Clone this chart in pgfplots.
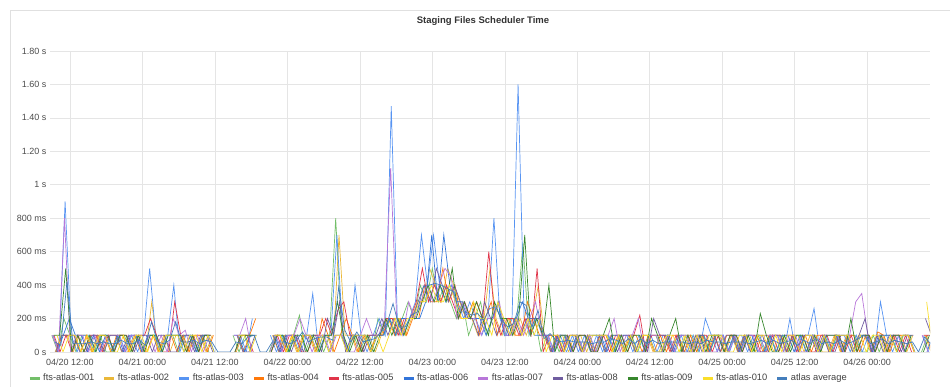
\documentclass[border=0pt]{standalone}
\usepackage{fontspec}
\setmainfont{Liberation Sans}
\usepackage{pgfplots}
\usepackage{pgfplotstable}
\pgfplotsset{compat=1.18}
\definecolor{c1}{HTML}{73BF69}
\definecolor{c2}{HTML}{EAB839}
\definecolor{c3}{HTML}{5794F2}
\definecolor{c4}{HTML}{FF780A}
\definecolor{c5}{HTML}{E0354A}
\definecolor{c6}{HTML}{3274D9}
\definecolor{c7}{HTML}{B877D9}
\definecolor{c8}{HTML}{705DA0}
\definecolor{c9}{HTML}{37872D}
\definecolor{c10}{HTML}{FADE2A}
\definecolor{cavg}{HTML}{447EBC}
% one row per series, hourly values (ms) from 04/20 09:00
\pgfplotstableread[header=false]{
100 0 200 100 0 100 100 0 100 0 0 100 100 0 100 0 100 100 0 100 100 0 100 100 0 100 0 nan nan nan 100 0 100 0 nan nan 0 100 100 0 100 220 0 100 100 0 100 800 100 0 100 0 100 0 200 100 200 100 200 300 200 400 300 500 300 400 300 200 300 100 200 300 100 200 300 100 200 200 650 100 200 0 100 100 0 100 0 100 0 100 0 100 100 0 100 0 100 0 100 100 100 0 100 0 0 100 100 0 100 0 100 100 0 100 0 100 0 100 0 100 0 100 0 100 100 0 100 0 100 0 100 0 100 100 0 0 100 0 100 100 0 100 100 nan 0 100
0 100 100 0 100 100 0 100 0 100 100 0 0 100 100 0 300 0 100 0 100 100 0 100 100 0 100 nan nan nan 0 100 100 100 nan nan 100 0 100 100 0 100 100 0 100 100 0 700 100 100 0 100 100 0 100 200 200 200 100 200 300 300 500 400 300 500 400 300 200 200 100 200 500 200 100 200 100 200 100 200 400 100 0 100 100 0 100 100 0 100 100 0 100 100 0 100 0 100 100 0 0 100 0 100 100 0 100 100 0 100 100 0 100 0 100 100 0 100 100 0 100 0 100 100 0 100 100 0 0 100 0 100 0 100 100 0 100 100 0 100 100 0 100 nan 100 0
100 0 900 100 0 100 100 0 100 100 0 100 0 100 0 100 500 100 0 100 400 0 100 100 0 100 100 nan nan nan 100 100 0 200 nan nan 100 0 100 0 100 0 100 350 0 100 100 700 100 0 400 100 0 100 200 100 1470 200 100 200 300 700 400 700 400 300 400 300 200 300 200 100 200 800 200 100 200 1600 200 100 200 100 100 0 100 0 100 0 100 0 100 0 100 0 100 100 0 100 0 100 0 100 100 0 100 0 100 0 200 100 0 100 0 100 100 0 100 100 0 100 100 0 200 0 100 100 260 0 100 0 100 100 0 100 0 100 0 300 100 0 100 0 100 nan 100 0
0 100 100 100 0 100 0 100 100 0 100 100 0 100 0 0 100 0 100 100 0 100 0 100 100 0 100 nan nan nan 100 0 100 200 nan nan 100 100 0 100 0 100 100 0 200 100 0 100 200 100 0 100 0 100 100 200 100 200 100 200 200 400 300 300 500 300 400 200 200 300 100 200 300 100 200 200 100 100 300 200 100 100 0 100 0 100 100 0 100 0 100 100 0 100 0 100 100 0 100 0 100 0 100 100 0 100 0 100 0 100 0 100 100 0 100 0 100 0 100 100 100 0 100 0 100 0 100 100 0 100 0 100 100 0 100 0 120 100 0 100 100 100 0 nan 100 0
100 0 100 0 100 0 100 100 0 100 0 100 100 0 100 100 200 100 0 0 300 100 0 100 0 100 100 nan nan nan 0 100 100 0 nan nan 0 100 0 100 100 0 0 100 100 200 100 250 300 100 100 0 100 100 100 200 200 100 200 200 300 500 300 400 300 400 300 200 300 200 300 200 600 200 100 200 200 100 200 100 500 0 100 100 0 100 0 100 100 0 0 100 0 100 100 0 100 220 0 100 100 100 0 100 0 100 0 100 100 0 100 0 100 100 0 100 100 0 0 100 0 100 100 0 100 0 0 100 100 0 100 0 100 0 100 100 0 100 0 100 0 100 0 nan 100 100
0 100 200 100 100 0 100 0 100 0 100 0 100 100 0 100 100 0 100 100 100 0 100 0 100 100 0 nan nan nan 100 0 100 100 nan nan 100 0 100 100 0 100 100 0 100 0 100 100 0 100 100 100 0 100 100 200 100 200 200 200 200 300 700 300 700 400 300 300 200 200 200 100 200 300 100 100 200 300 200 100 100 100 0 100 100 0 100 0 100 100 100 0 100 100 0 100 0 0 100 0 0 100 0 100 100 0 100 100 0 100 100 0 100 0 100 100 0 0 100 0 100 100 0 100 0 100 0 100 0 100 0 100 0 100 100 0 100 100 100 0 100 100 0 nan 0 100
100 0 800 0 100 100 0 100 0 100 100 100 0 100 100 0 100 0 100 0 200 100 130 0 100 0 100 nan nan nan 100 100 200 0 nan nan 0 100 0 100 100 200 100 0 100 100 0 100 100 0 0 100 200 100 100 200 1100 200 100 300 200 300 400 300 400 500 450 200 300 200 200 100 200 200 300 100 100 200 100 200 300 100 100 0 100 100 0 100 0 100 0 100 100 200 0 100 100 200 0 100 100 0 100 0 100 100 0 100 0 0 0 100 0 100 0 100 100 0 100 100 100 0 100 100 0 0 100 0 100 100 100 0 100 300 350 100 0 100 0 100 100 0 100 nan 100 0
0 100 100 100 0 0 100 100 0 100 100 0 100 0 100 100 0 100 100 0 0 100 100 0 100 100 0 nan nan nan 100 0 0 100 nan nan 100 0 100 0 100 0 100 100 0 200 100 300 0 100 100 0 100 100 200 100 200 100 200 200 300 400 300 500 400 300 400 300 200 200 100 300 200 100 200 100 200 100 200 200 200 100 0 100 0 100 100 0 100 0 100 0 100 0 100 100 0 100 0 200 100 100 0 100 0 0 100 0 100 100 0 100 100 0 100 0 100 100 0 100 100 0 100 0 100 100 0 100 0 0 100 100 0 100 200 0 100 0 100 100 0 100 100 nan 200 100
100 100 500 0 100 0 100 0 100 100 0 100 100 0 100 0 100 100 0 100 100 100 0 100 0 100 100 nan nan nan 0 100 100 100 nan nan 0 100 100 0 100 100 0 100 0 100 100 300 100 0 100 0 100 0 100 200 100 200 100 200 200 300 400 300 400 300 500 200 300 200 300 200 100 300 200 200 100 200 700 100 200 100 400 0 100 100 0 100 100 0 0 100 200 0 100 0 100 100 0 200 100 0 100 200 0 100 0 100 0 100 100 0 100 100 0 100 0 230 100 0 0 100 0 100 100 0 100 0 100 100 100 0 200 0 100 100 0 100 0 100 100 0 100 nan 0 100
100 0 100 100 0 100 0 100 100 0 0 100 0 100 100 0 100 0 100 100 100 0 100 100 0 100 0 nan nan nan 100 100 0 100 nan nan 100 100 0 100 0 100 100 0 100 0 100 100 0 100 100 100 0 100 0 100 200 100 200 200 300 300 400 300 300 400 300 200 200 300 200 200 100 300 200 100 200 100 200 100 200 0 100 100 0 100 100 0 100 100 100 100 0 100 0 100 0 100 100 0 0 100 100 0 100 0 100 0 100 100 100 0 0 100 100 0 100 100 0 100 0 100 100 0 100 100 0 100 0 100 100 100 0 100 0 100 100 0 100 0 100 100 0 nan 300 0
60 40 420 50 50 50 60 50 60 50 50 70 50 50 70 40 180 60 50 70 180 60 60 70 50 70 60 0 0 0 60 50 90 100 0 0 60 60 60 50 70 120 60 80 90 90 70 390 130 60 120 60 70 80 120 170 290 150 150 220 240 390 400 410 400 380 360 240 240 220 230 190 260 270 190 150 170 300 280 150 250 80 110 70 60 70 60 60 60 50 60 60 80 70 50 80 50 80 50 70 50 60 60 60 60 50 60 50 70 60 60 50 60 60 60 50 60 70 50 70 50 60 70 40 70 50 80 50 60 50 70 50 60 80 100 50 60 80 50 70 60 50 60 0 90 50
}\rawdata
\pgfplotstabletranspose{\seriesdata}{\rawdata}
\begin{document}
\begin{tikzpicture}
\path[use as bounding box] (0pt,0pt) rectangle (950pt,387pt);
\draw[black!12, line width=0.8pt] (10pt,-2pt) -- (10pt,377pt) -- (952pt,377pt);
\node[font=\fontsize{9.5}{11}\selectfont\bfseries, text=black!80] at (483pt,366pt) {Staging Files Scheduler Time};
\begin{axis}[
 at={(50pt,35pt)}, anchor=south west,
 scale only axis, width=880pt, height=301pt,
 xmin=8.7, xmax=154.4, ymin=0, ymax=1800,
 axis line style={draw=none},
 major tick length=0pt,
 grid=major, grid style={draw=black!10, line width=0.6pt},
 xtick={12,24,...,144},
 xticklabels={04/20 12:00,04/21 00:00,04/21 12:00,04/22 00:00,04/22 12:00,04/23 00:00,04/23 12:00,04/24 00:00,04/24 12:00,04/25 00:00,04/25 12:00,04/26 00:00},
 ytick={0,200,...,1800},
 yticklabels={0 s,200 ms,400 ms,600 ms,800 ms,1 s,1.20 s,1.40 s,1.60 s,1.80 s},
 tick label style={font=\fontsize{9}{10}\selectfont, text=black!70},
 xticklabel style={yshift=-3pt},
 unbounded coords=jump,
 legend columns=-1,
 legend style={draw=none, fill=none, at={(-0.025,-0.0864)}, anchor=west, font=\fontsize{9.3}{10}\selectfont, text=black!75, inner sep=0pt, /tikz/every even column/.append style={column sep=6.6pt}},
 legend image code/.code={\draw[line width=3pt] (0pt,0pt) -- (10pt,0pt);},
 every axis plot/.append style={line width=0.7pt},
 legend entries={fts-atlas-001,fts-atlas-002,fts-atlas-003,fts-atlas-004,fts-atlas-005,fts-atlas-006,fts-atlas-007,fts-atlas-008,fts-atlas-009,fts-atlas-010,atlas average},
]
\addplot[c1] table[x expr=\coordindex+9.00, y index=1] {\seriesdata};
\addplot[c2] table[x expr=\coordindex+9.55, y index=2] {\seriesdata};
\addplot[c3] table[x expr=\coordindex+9.20, y index=3] {\seriesdata};
\addplot[c4] table[x expr=\coordindex+9.75, y index=4] {\seriesdata};
\addplot[c5] table[x expr=\coordindex+9.35, y index=5] {\seriesdata};
\addplot[c6] table[x expr=\coordindex+9.90, y index=6] {\seriesdata};
\addplot[c7] table[x expr=\coordindex+9.10, y index=7] {\seriesdata};
\addplot[c8] table[x expr=\coordindex+9.65, y index=8] {\seriesdata};
\addplot[c9] table[x expr=\coordindex+9.30, y index=9] {\seriesdata};
\addplot[c10] table[x expr=\coordindex+9.85, y index=10] {\seriesdata};
\addplot[cavg] table[x expr=\coordindex+9.50, y index=11] {\seriesdata};
\end{axis}
\end{tikzpicture}
\end{document}
